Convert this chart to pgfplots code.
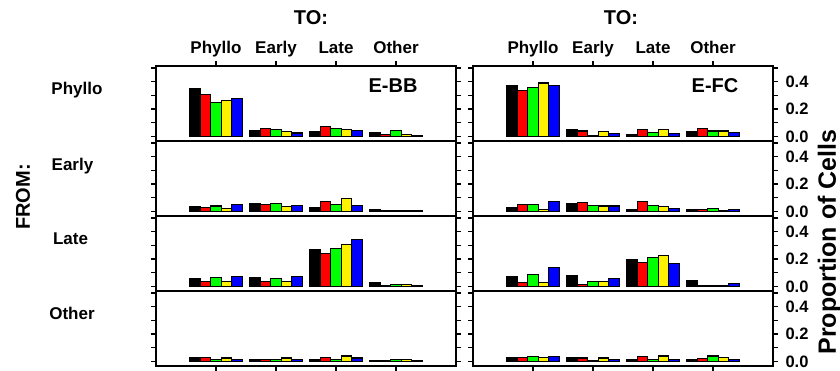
\documentclass[border=0pt]{standalone}
\usepackage{pgfplots}
\pgfplotsset{compat=1.18}
\usepackage{pgfplotstable}
\usepackage{fontspec}
\setmainfont{Liberation Sans}

% columns: x = TO category (1 Phyllo, 2 Early, 3 Late, 4 Other); k r g y b = five series
\pgfplotstableread{
x k r g y b
1 0.350 0.305 0.245 0.265 0.280
2 0.040 0.060 0.050 0.035 0.025
3 0.035 0.075 0.060 0.050 0.045
4 0.025 0.015 0.045 0.012 0.005
}\bbA
\pgfplotstableread{
x k r g y b
1 0.375 0.335 0.360 0.390 0.370
2 0.050 0.040 0.010 0.035 0.020
3 0.017 0.050 0.030 0.050 0.020
4 0.035 0.055 0.040 0.040 0.030
}\fcA
\pgfplotstableread{
x k r g y b
1 0.037 0.030 0.040 0.020 0.050
2 0.060 0.050 0.060 0.037 0.046
3 0.030 0.073 0.050 0.093 0.044
4 0.012 0.010 0.010 0.010 0.010
}\bbB
\pgfplotstableread{
x k r g y b
1 0.030 0.054 0.050 0.017 0.070
2 0.060 0.068 0.046 0.040 0.040
3 0.017 0.075 0.046 0.037 0.020
4 0.015 0.017 0.020 0.010 0.015
}\fcB
\pgfplotstableread{
x k r g y b
1 0.060 0.037 0.065 0.037 0.073
2 0.068 0.037 0.060 0.037 0.073
3 0.270 0.240 0.275 0.305 0.340
4 0.027 0.010 0.017 0.017 0.010
}\bbC
\pgfplotstableread{
x k r g y b
1 0.073 0.030 0.085 0.030 0.140
2 0.080 0.017 0.034 0.034 0.060
3 0.195 0.175 0.210 0.225 0.165
4 0.040 0.005 0.005 0.005 0.020
}\fcC
\pgfplotstableread{
x k r g y b
1 0.025 0.027 0.017 0.025 0.017
2 0.017 0.017 0.017 0.025 0.017
3 0.017 0.030 0.017 0.040 0.025
4 0.010 0.010 0.017 0.017 0.010
}\bbD
\pgfplotstableread{
x k r g y b
1 0.030 0.030 0.035 0.030 0.034
2 0.025 0.025 0.010 0.025 0.012
3 0.017 0.034 0.017 0.040 0.017
4 0.017 0.022 0.040 0.030 0.017
}\fcD

\pgfplotsset{
  panel/.style={
    scale only axis, width=300pt, height=75pt, anchor=south west,
    xmin=0, xmax=5, ymin=-0.033, ymax=0.514,
    ybar=0pt, bar width=10.6pt,
    axis line style={line width=1.8pt},
    every tick/.style={line width=1.3pt, black},
    major tick length=5pt, minor tick length=5pt,
    tick align=outside,
    ytick={0,0.2,0.4}, minor ytick={0.1,0.3,0.5},
    xtick=\empty,
    clip=false,
    yticklabels={},
  },
  rightcol/.style={
    yticklabel pos=right, ytick pos=both,
    yticklabel={\pgfmathprintnumber[fixed,fixed zerofill,precision=1]{\tick}},
    yticklabel style={font=\bfseries\fontsize{16.5}{16.5}\selectfont, anchor=west, xshift=4pt},
    /pgf/number format/assume math mode=true,
  },
  toprow/.style={xtick={1,2,3,4}, xtick pos=right, xticklabels={}},
  botrow/.style={xtick={1,2,3,4}, xtick pos=left, xticklabels={}},
}
\newcommand{\bars}[1]{%
  \addplot[draw=black, line width=1.1pt, fill=black] table[x=x,y=k] {#1};
  \addplot[draw=black, line width=1.1pt, fill=red] table[x=x,y=r] {#1};
  \addplot[draw=black, line width=1.1pt, fill=green] table[x=x,y=g] {#1};
  \addplot[draw=black, line width=1.1pt, fill=yellow] table[x=x,y=y] {#1};
  \addplot[draw=black, line width=1.1pt, fill=blue] table[x=x,y=b] {#1};
}

\begin{document}
\begin{tikzpicture}
\path[use as bounding box] (0,0) rectangle (840pt,370pt);

% left column (E-BB)
\begin{axis}[panel, toprow, at={(156pt,229pt)}]
\bars{\bbA}
\end{axis}
\begin{axis}[panel, at={(156pt,154pt)}]
\bars{\bbB}
\end{axis}
\begin{axis}[panel, at={(156pt,79pt)}]
\bars{\bbC}
\end{axis}
\begin{axis}[panel, botrow, at={(156pt,4pt)}]
\bars{\bbD}
\end{axis}

% right column (E-FC)
\begin{axis}[panel, rightcol, toprow, at={(473pt,229pt)}]
\bars{\fcA}
\end{axis}
\begin{axis}[panel, rightcol, at={(473pt,154pt)}]
\bars{\fcB}
\end{axis}
\begin{axis}[panel, rightcol, at={(473pt,79pt)}]
\bars{\fcC}
\end{axis}
\begin{axis}[panel, rightcol, botrow, at={(473pt,4pt)}]
\bars{\fcD}
\end{axis}

\begin{scope}[every node/.style={inner sep=0pt}]
\def\fh{\bfseries\fontsize{17}{17}\selectfont}
\def\fb{\bfseries\fontsize{20}{20}\selectfont}
% panel titles
\node[font=\fb] at (393pt,284.5pt) {E-BB};
\node[font=\fb] at (715pt,284.5pt) {E-FC};
% TO headers
\node[font=\fb, anchor=base] at (311pt,345pt) {TO:};
\node[font=\fb, anchor=base] at (621pt,345pt) {TO:};
\foreach \lab [count=\i] in {Phyllo,Early,Late,Other} {
  \node[font=\fh, anchor=base] at ({156pt+60pt*\i},316.7pt) {\lab};
  \node[font=\fh, anchor=base] at ({473pt+60pt*\i},316.7pt) {\lab};
}
% FROM labels
\node[font=\fb, rotate=90] at (23pt,173pt) {FROM:};
\node[font=\fh, anchor=base] at (77pt,275.5pt) {Phyllo};
\node[font=\fh, anchor=base] at (72.5pt,199.5pt) {Early};
\node[font=\fh, anchor=base] at (70.5pt,125.5pt) {Late};
\node[font=\fh, anchor=base] at (72pt,50.5pt) {Other};
% right axis title
\node[font=\bfseries\fontsize{25}{25}\selectfont, rotate=90] at (829.5pt,128pt) {Proportion of Cells};
\end{scope}
\end{tikzpicture}
\end{document}
